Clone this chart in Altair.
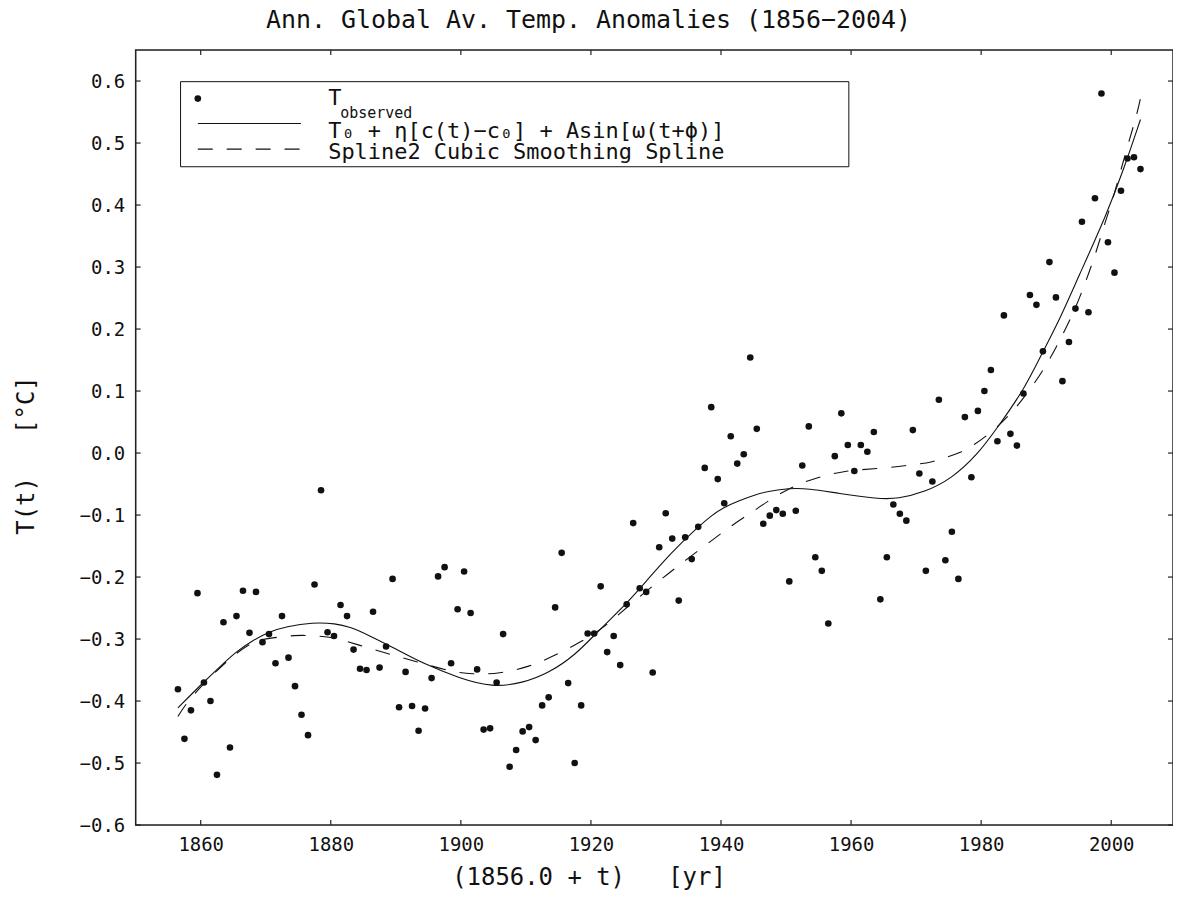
import altair as alt
import pandas as pd

# ---------------- data ----------------
years = list(range(1856, 2005))
temps = [
    -0.381, -0.461, -0.415, -0.226, -0.370, -0.400, -0.519, -0.273, -0.475, -0.263,
    -0.222, -0.290, -0.224, -0.305, -0.292, -0.339, -0.263, -0.330, -0.376, -0.422,
    -0.455, -0.212, -0.060, -0.289, -0.295, -0.245, -0.263, -0.317, -0.348, -0.350,
    -0.256, -0.346, -0.312, -0.203, -0.410, -0.353, -0.408, -0.448, -0.412, -0.363,
    -0.199, -0.184, -0.339, -0.252, -0.191, -0.258, -0.349, -0.446, -0.444, -0.370,
    -0.292, -0.506, -0.479, -0.449, -0.442, -0.463, -0.407, -0.394, -0.249, -0.161,
    -0.371, -0.500, -0.407, -0.291, -0.291, -0.215, -0.321, -0.295, -0.342, -0.244,
    -0.113, -0.218, -0.224, -0.354, -0.152, -0.097, -0.138, -0.238, -0.136, -0.171,
    -0.119, -0.024, 0.074, -0.042, -0.081, 0.027, -0.017, -0.002, 0.154, 0.039,
    -0.114, -0.101, -0.092, -0.098, -0.207, -0.093, -0.020, 0.043, -0.168, -0.190,
    -0.275, -0.005, 0.064, 0.013, -0.029, 0.013, 0.002, 0.034, -0.236, -0.168,
    -0.083, -0.098, -0.109, 0.037, -0.033, -0.190, -0.046, 0.086, -0.173, -0.127,
    -0.203, 0.058, -0.039, 0.068, 0.100, 0.134, 0.019, 0.222, 0.031, 0.012,
    0.096, 0.255, 0.239, 0.164, 0.308, 0.251, 0.116, 0.179, 0.233, 0.373,
    0.227, 0.411, 0.580, 0.340, 0.291, 0.423, 0.475, 0.477, 0.458,
]

# model fit  T0 + eta[c(t)-c0] + A sin[w(t+phi)]
fit_t = [1856.5, 1860.3, 1862.9, 1865.5, 1868.0, 1870.6, 1873.1, 1877.2, 1880.8, 1882.8,
         1885.9, 1890.0, 1894.1, 1899.7, 1904.9, 1909.5, 1913.5, 1917.6, 1921.2, 1925.3,
         1928.4, 1932.4, 1936.5, 1938.5, 1940.5, 1942.7, 1945.0, 1947.5, 1950.4, 1953.4,
         1958.0, 1964.1, 1967.2, 1971.3, 1975.4, 1979.5, 1982.5, 1986.6, 1989.5, 1991.7,
         1995.0, 1999.3, 2002.0, 2004.5]
fit_v = [-0.411, -0.371, -0.345, -0.320, -0.302, -0.288, -0.280, -0.273, -0.275, -0.280,
         -0.294, -0.316, -0.339, -0.363, -0.378, -0.371, -0.355, -0.326, -0.286, -0.245,
         -0.208, -0.160, -0.119, -0.101, -0.087, -0.077, -0.068, -0.061, -0.057, -0.057,
         -0.065, -0.074, -0.074, -0.063, -0.042, -0.002, 0.041, 0.102, 0.164, 0.207,
         0.285, 0.385, 0.460, 0.538]

# Spline2 cubic smoothing spline
spl_t = [1856.5, 1857.6, 1860.3, 1862.9, 1865.5, 1868.0, 1869.6, 1871.9, 1874.4, 1876.5,
         1878.8, 1880.8, 1884.4, 1888.5, 1893.1, 1898.2, 1901.8, 1905.9, 1910.5, 1914.6,
         1918.6, 1922.2, 1925.8, 1929.9, 1933.5, 1937.6, 1941.2, 1944.8, 1948.3, 1950.4,
         1952.4, 1954.5, 1956.7, 1958.9, 1961.0, 1965.5, 1970.1, 1972.3, 1974.4, 1976.6,
         1978.7, 1982.5, 1985.3, 1988.0, 1990.4, 1992.5, 1994.5, 1996.1, 1997.6, 1998.9,
         2000.3, 2001.5, 2002.7, 2004.0, 2004.6]
spl_v = [-0.425, -0.406, -0.373, -0.347, -0.322, -0.305, -0.300, -0.297, -0.294, -0.294,
         -0.296, -0.298, -0.310, -0.323, -0.336, -0.352, -0.357, -0.356, -0.345, -0.326,
         -0.304, -0.280, -0.246, -0.211, -0.181, -0.149, -0.120, -0.095, -0.070, -0.058,
         -0.048, -0.041, -0.034, -0.030, -0.027, -0.024, -0.018, -0.015, -0.008, 0.000,
         0.011, 0.041, 0.072, 0.109, 0.148, 0.190, 0.233, 0.277, 0.321, 0.367,
         0.411, 0.457, 0.502, 0.548, 0.577]

x_ticks = [1860, 1880, 1900, 1920, 1940, 1960, 1980, 2000]
y_ticks = [-0.6, -0.5, -0.4, -0.3, -0.2, -0.1, 0.0, 0.1, 0.2, 0.3, 0.4, 0.5, 0.6]

title_text = "Ann. Global Av. Temp. Anomalies (1856\u22122004)"
x_title = "(1856.0 + t)\u00a0\u00a0\u00a0[yr]"
y_title = "T(t)\u00a0\u00a0\u00a0[\u00b0C]"
legend_labels = ["T", "observed", "T\u2080 + \u03b7[c(t)\u2212c\u2080] + Asin[\u03c9(t+\u03d5)]",
                 "Spline2 Cubic Smoothing Spline"]

# ---------------- chart ----------------
W, H = 1040, 777
FONT = "DejaVu Sans Mono"
INK = "#111111"
CX = 454   # horizontal centre of the page, relative to the plot's left edge
CY = 406   # vertical centre of the page, relative to the plot's top edge

obs = pd.DataFrame({"year": years, "y": temps})
fit = pd.DataFrame({"x": fit_t, "y": fit_v})
spl = pd.DataFrame({"x": spl_t, "y": spl_v})
xt = pd.DataFrame({"x": x_ticks})
yt = pd.DataFrame({"y": y_ticks})
one = pd.DataFrame({"k": [0]})

xscale = alt.Scale(domain=[1850, 2009.5], nice=False, zero=False)
yscale = alt.Scale(domain=[-0.6, 0.65], nice=False, zero=False)

xaxis = alt.Axis(values=x_ticks, format="d", ticks=False, domain=False, grid=False,
                 labelFont=FONT, labelFontSize=19, labelPadding=11, labelColor=INK,
                 title=x_title, titleFont=FONT, titleFontSize=24, titleFontWeight="normal",
                 titleColor=INK, titleBaseline="alphabetic", titleAlign="center",
                 titleX=CX, titleY=60)
yaxis = alt.Axis(values=y_ticks, format=".1f", ticks=False, domain=False, grid=False,
                 labelFont=FONT, labelFontSize=19, labelPadding=11, labelColor=INK,
                 title=y_title, titleFont=FONT, titleFontSize=24, titleFontWeight="normal",
                 titleColor=INK, titleBaseline="alphabetic", titleAlign="center",
                 titleX=-102, titleY=CY)

X = alt.X("x:Q", scale=xscale, axis=xaxis)
Y = alt.Y("y:Q", scale=yscale, axis=yaxis)

points = alt.Chart(obs).transform_calculate(x="datum.year + 0.5").mark_circle(
    size=44, color=INK, opacity=1).encode(x=X, y=Y)

fit_line = alt.Chart(fit).mark_line(color=INK, strokeWidth=1.1, interpolate="basis").encode(x=X, y=Y)
spl_line = alt.Chart(spl).mark_line(color=INK, strokeWidth=1.1, interpolate="basis",
                                    strokeDash=[15, 14]).encode(x=X, y=Y)

# plot frame and inward ticks on all four sides
frame = alt.Chart(one).mark_rect(filled=False, stroke="#222222", strokeWidth=1.5).encode(
    x=alt.value(0), x2=alt.value(W), y=alt.value(0), y2=alt.value(H))
tick_style = dict(color="#222222", strokeWidth=1.2)
xt_bottom = alt.Chart(xt).mark_rule(**tick_style).encode(x=X, y=alt.value(H), y2=alt.value(H - 5))
xt_top = alt.Chart(xt).mark_rule(**tick_style).encode(x=X, y=alt.value(0), y2=alt.value(5))
yt_left = alt.Chart(yt).mark_rule(**tick_style).encode(y=Y, x=alt.value(0), x2=alt.value(5))
yt_right = alt.Chart(yt).mark_rule(**tick_style).encode(y=Y, x=alt.value(W), x2=alt.value(W - 5))

# title as a text mark above the frame
title = alt.Chart(one).mark_text(align="center", baseline="alphabetic", font=FONT,
                                 fontSize=25, color=INK).encode(
    x=alt.value(CX), y=alt.value(-22), text=alt.value(title_text))

# legend
leg_box = alt.Chart(one).mark_rect(filled=False, stroke=INK, strokeWidth=1).encode(
    x=alt.value(45), x2=alt.value(715), y=alt.value(31.7), y2=alt.value(117))
leg_dot = alt.Chart(one).mark_circle(size=44, color=INK, opacity=1).encode(
    x=alt.value(62.3), y=alt.value(48.7))
leg_solid = alt.Chart(one).mark_rule(color=INK, strokeWidth=1.1).encode(
    x=alt.value(62.3), x2=alt.value(165.7), y=alt.value(73.7))
leg_dash = alt.Chart(one).mark_rule(color=INK, strokeWidth=1.1, strokeDash=[15, 14]).encode(
    x=alt.value(62.3), x2=alt.value(165.7), y=alt.value(99.3))

def leg_text(txt, x, y, size):
    return alt.Chart(one).mark_text(align="left", baseline="alphabetic", font=FONT,
                                    fontSize=size, color=INK).encode(
        x=alt.value(x), y=alt.value(y), text=alt.value(txt))

leg_t1 = leg_text(legend_labels[0], 193, 55.3, 22)
leg_t1s = leg_text(legend_labels[1], 205, 68.5, 15)
leg_t2 = leg_text(legend_labels[2], 193, 88.3, 22)
leg_t3 = leg_text(legend_labels[3], 193, 109.3, 22)

chart = alt.layer(
    spl_line, fit_line, points,
    frame, xt_bottom, xt_top, yt_left, yt_right, title,
    leg_box, leg_dot, leg_solid, leg_dash, leg_t1, leg_t1s, leg_t2, leg_t3,
).properties(
    width=W, height=H,
    padding={"left": 128, "top": 41, "right": 0, "bottom": 77},
    autosize=alt.AutoSizeParams(type="none"),
).configure_view(strokeWidth=0).configure(background="white")

chart.save("out.html", embed_options={"renderer": "svg", "actions": False})
